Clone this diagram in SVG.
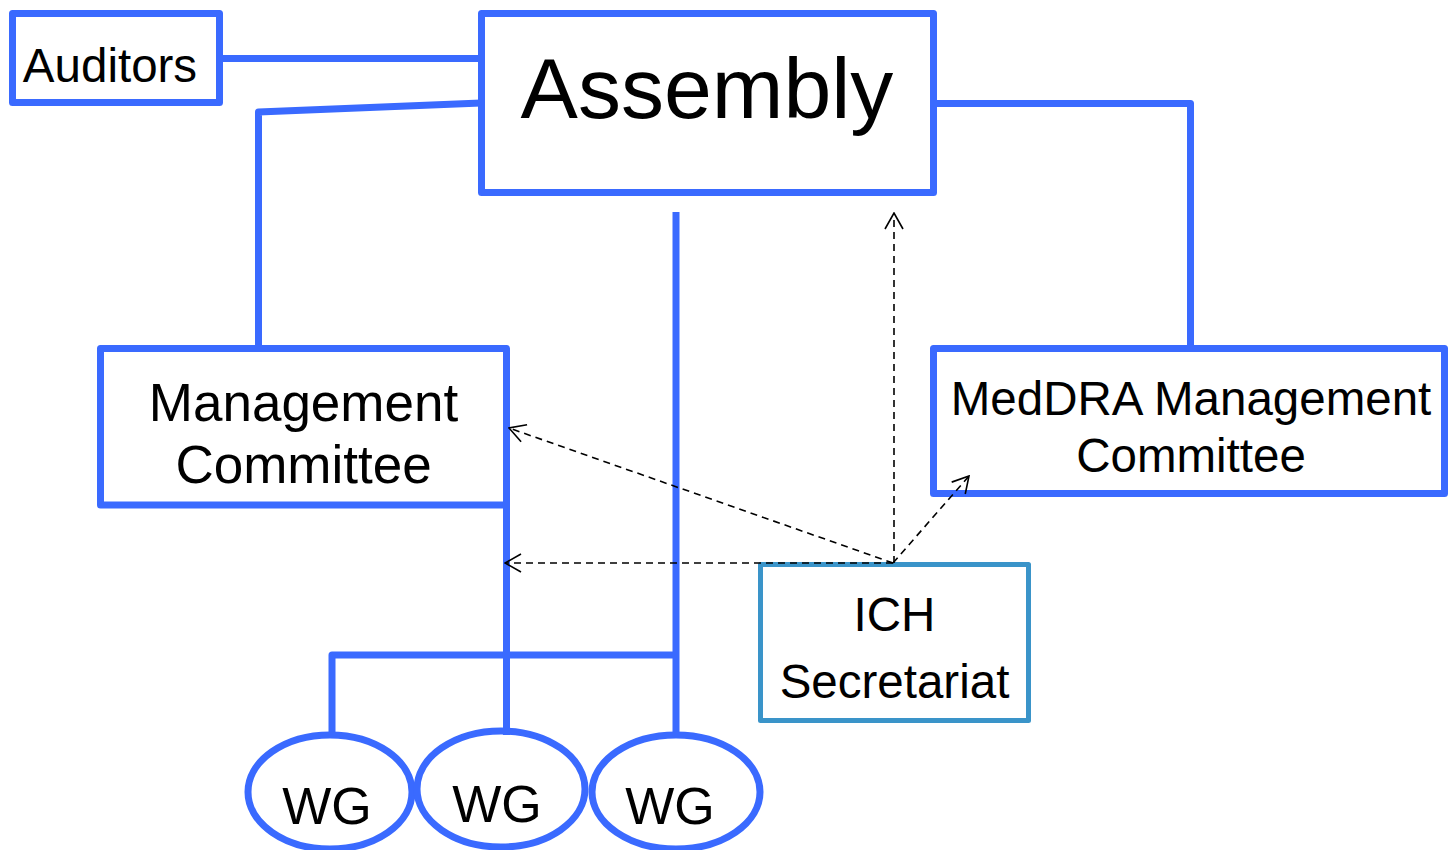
<svg xmlns="http://www.w3.org/2000/svg" width="1451" height="850" viewBox="0 0 1451 850">
<style>
.box{fill:#fff;stroke:#3A6AFF;stroke-width:7;stroke-linejoin:round}
.ich{fill:#fff;stroke:#3A94C9;stroke-width:5;stroke-linejoin:round}
.ln{fill:none;stroke:#3A6AFF;stroke-width:7;stroke-linejoin:round}
.dash{fill:none;stroke:#000;stroke-width:1.6;stroke-dasharray:7,5}
text{font-family:"Liberation Sans",Arial,sans-serif;fill:#000;text-anchor:middle}
</style>
<defs>
<marker id="arr" markerUnits="userSpaceOnUse" viewBox="0 0 18 20" markerWidth="18" markerHeight="20" refX="17" refY="10" orient="auto">
<path d="M1,1 L17,10 L1,19" fill="none" stroke="#000" stroke-width="1.6"/>
</marker>
</defs>
<rect width="1451" height="850" fill="#fff"/>
<g id="auditors">
<rect class="box" x="12.5" y="13.5" width="207" height="89"/>
<text x="110" y="82" font-size="47.5">Auditors</text>
</g>
<g id="assembly">
<rect class="box" x="481.5" y="13.5" width="452" height="179"/>
<text x="707" y="118" font-size="86">Assembly</text>
</g>
<g id="management-committee">
<rect class="box" x="100.5" y="348.5" width="406" height="156.5"/>
<text x="303.5" y="421" font-size="53">Management</text>
<text x="303.5" y="483" font-size="53">Committee</text>
</g>
<g id="meddra-committee">
<rect class="box" x="933.5" y="348.5" width="511" height="145"/>
<text x="1191" y="415" font-size="47.5">MedDRA Management</text>
<text x="1191" y="472" font-size="47.5">Committee</text>
</g>
<g id="ich-secretariat">
<rect class="ich" x="760.5" y="564.5" width="268" height="156"/>
<text x="894.5" y="631" font-size="47.5">ICH</text>
<text x="894.5" y="698" font-size="47.5">Secretariat</text>
</g>
<g id="wg1">
<ellipse class="box" cx="330" cy="792" rx="82" ry="57"/>
<text x="327" y="824" font-size="52">WG</text>
</g>
<g id="wg2">
<ellipse class="box" cx="501" cy="789" rx="84" ry="58"/>
<text x="497" y="821.5" font-size="52">WG</text>
</g>
<g id="wg3">
<ellipse class="box" cx="676" cy="792" rx="84" ry="57"/>
<text x="670" y="824" font-size="52">WG</text>
</g>
<g id="connectors">
<path class="ln" d="M219,58.5 H481"/>
<path class="ln" d="M481,103 L258.5,112 V348"/>
<path class="ln" d="M933,103.5 H1190.5 V348"/>
<path class="ln" d="M676,212 V735"/>
<path class="ln" d="M332,735 V655 H676"/>
<path class="ln" d="M506.5,483 V735"/>
<path class="dash" d="M893,563 L509,428" marker-end="url(#arr)"/>
<path class="dash" d="M893,563 L505,563" marker-end="url(#arr)"/>
<path class="dash" d="M894,563 L894,213" marker-end="url(#arr)"/>
<path class="dash" d="M893,563 L969,476" marker-end="url(#arr)"/>
</g>
</svg>
